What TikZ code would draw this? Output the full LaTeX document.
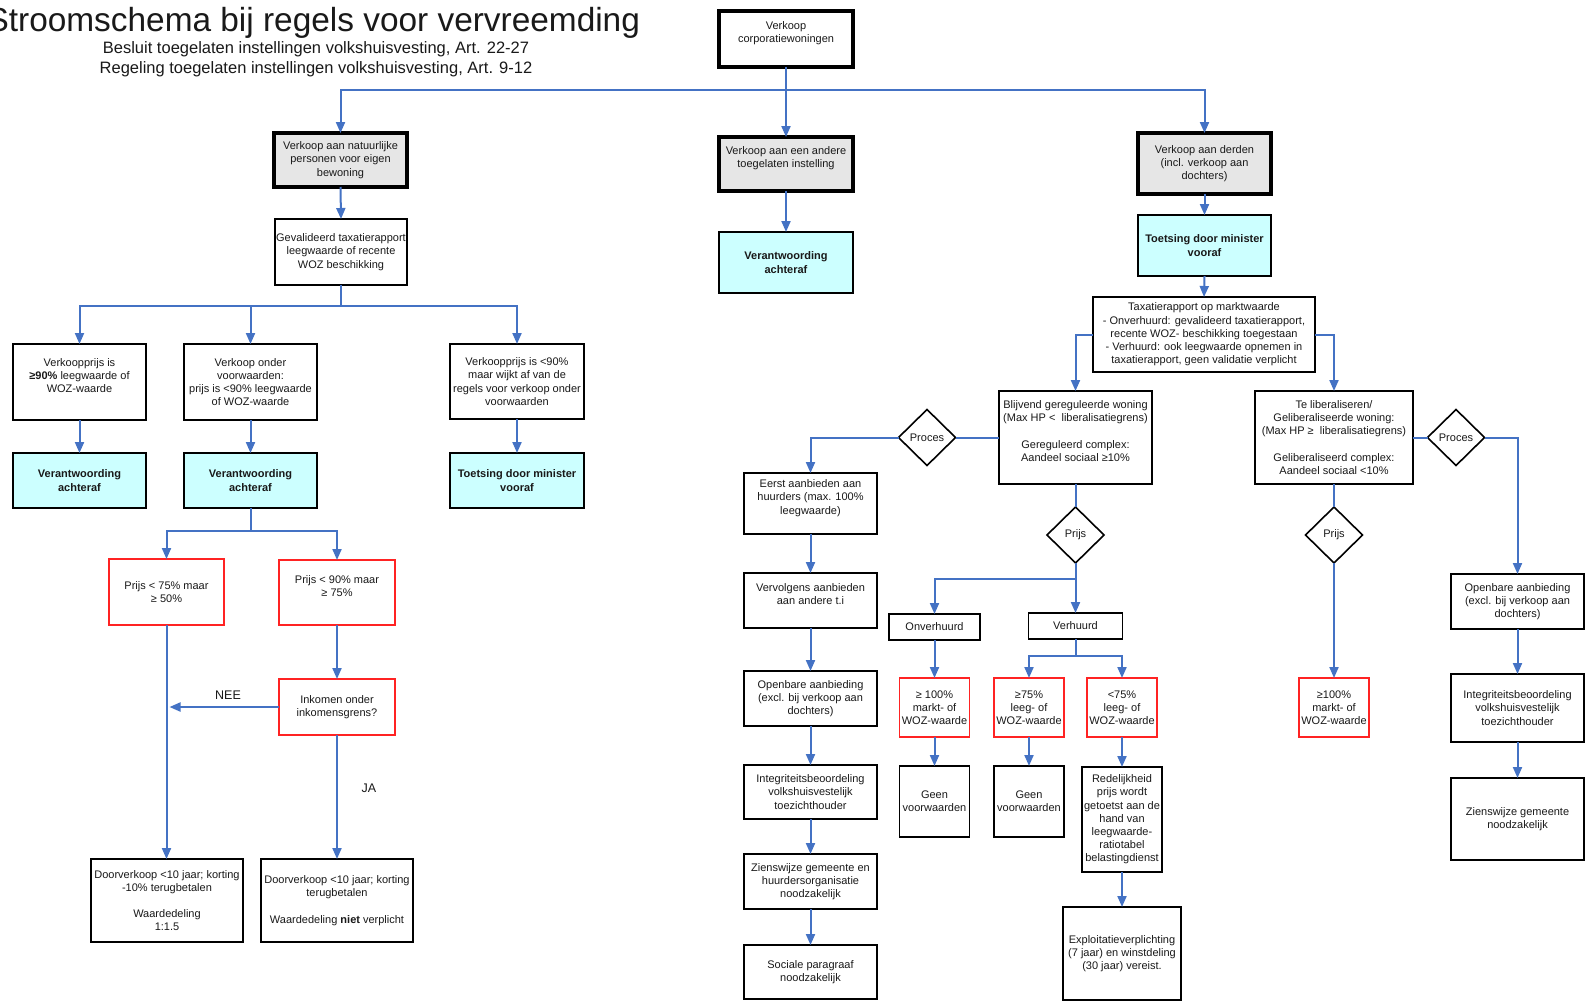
\documentclass[tikz,border=0pt]{standalone}
\usepackage{fontspec}
\setmainfont{Liberation Sans}
\usetikzlibrary{arrows.meta,shapes.geometric,calc}
\definecolor{conblue}{RGB}{68,114,196}
\definecolor{cyanfill}{RGB}{204,255,255}
\definecolor{grayfill}{RGB}{230,230,230}
\definecolor{redline}{RGB}{255,35,35}
\newcommand\bx[7]{\node[#6, minimum width={(#4-#2)*1pt}, minimum height={(#5-#3)*1pt}] (#1) at ({(#2+#4)/2},{(#3+#5)/2}) {#7};}
\begin{document}
\begin{tikzpicture}[x=1pt,y=-1pt,
  every node/.style={font=\fontsize{11}{13.2}\selectfont, align=center, inner sep=0pt, outer sep=0pt, text=black!90},
  plainbox/.style={draw=black, line width=1.6pt, fill=white},
  heavybox/.style={draw=black, line width=3.2pt, fill=white},
  graybox/.style={draw=black, line width=3.2pt, fill=grayfill},
  cyanbox/.style={draw=black, line width=1.6pt, fill=cyanfill, font=\fontsize{11}{13.2}\selectfont\bfseries},
  redbox/.style={draw=redline, line width=1.8pt, fill=white},
  diam/.style={draw=black, line width=1.6pt, fill=white, diamond, minimum width=57pt, minimum height=56pt},
  conn/.style={draw=conblue, line width=2pt},
  arr/.style={conn, -{Triangle[length=11pt,width=9pt]}},
  lbl/.style={font=\fontsize{12.5}{14}\selectfont}
]
\useasboundingbox (0,0) rectangle (1589,1001);
\fill[white] (0,0) rectangle (1589,1001);

% titles
\node[anchor=base east, font=\fontsize{33.4}{36}\selectfont] (title) at (640,31) {Stroomschema bij regels voor vervreemding};
\node[anchor=base, font=\fontsize{16.5}{19}\selectfont] (sub1) at (316,53.5) {Besluit toegelaten instellingen volkshuisvesting, Art. 22-27};
\node[anchor=base, font=\fontsize{16.5}{19}\selectfont] (sub2) at (316,73.5) {Regeling toegelaten instellingen volkshuisvesting, Art. 9-12};

% top level
\bx{top}{719}{11}{853}{67}{heavybox}{Verkoop\\corporatiewoningen\\\mbox{}}
\bx{nat}{274}{133}{407}{187}{graybox}{Verkoop aan natuurlijke\\personen voor eigen\\bewoning}
\bx{andere}{719}{137}{853}{191}{graybox}{Verkoop aan een andere\\toegelaten instelling\\\mbox{}}
\bx{derden}{1138}{133}{1271}{194}{graybox}{Verkoop aan derden\\(incl. verkoop aan\\dochters)}
\bx{vaA}{719}{232}{853}{293}{cyanbox}{Verantwoording\\achteraf}
\bx{tmD}{1138}{215}{1271}{276}{cyanbox}{Toetsing door minister\\vooraf}
\bx{tax}{1093}{297}{1315}{372}{plainbox}{Taxatierapport op marktwaarde\\- Onverhuurd: gevalideerd taxatierapport,\\recente WOZ- beschikking toegestaan\\- Verhuurd: ook leegwaarde opnemen in\\taxatierapport, geen validatie verplicht}

% left branch
\bx{geval}{275}{219}{407}{285}{plainbox}{Gevalideerd taxatierapport\\leegwaarde of recente\\WOZ beschikking}
\bx{A}{13}{344}{146}{420}{plainbox}{Verkoopprijs is\\\textbf{≥90\%} leegwaarde of\\WOZ-waarde\\\mbox{}}
\bx{B}{184}{344}{317}{420}{plainbox}{Verkoop onder\\voorwaarden:\\prijs is <90\% leegwaarde\\of WOZ-waarde}
\bx{C}{450}{344}{584}{419}{plainbox}{Verkoopprijs is <90\%\\maar wijkt af van de\\regels voor verkoop onder\\voorwaarden}
\bx{A2}{13}{453}{146}{508}{cyanbox}{Verantwoording\\achteraf}
\bx{B2}{184}{453}{317}{508}{cyanbox}{Verantwoording\\achteraf}
\bx{C2}{450}{453}{584}{508}{cyanbox}{Toetsing door minister\\vooraf}
\bx{r75}{109}{559}{224}{625}{redbox}{Prijs < 75\% maar\\≥ 50\%}
\bx{r90}{279}{560}{395}{625}{redbox}{Prijs < 90\% maar\\≥ 75\%\\\mbox{}}
\bx{ink}{279}{679}{395}{735}{redbox}{Inkomen onder\\inkomensgrens?}
\bx{dvL}{91}{859}{243}{942}{plainbox}{Doorverkoop <10 jaar; korting\\-10\% terugbetalen\\\mbox{}\\Waardedeling\\1:1.5}
\bx{dvR}{261}{859}{413}{942}{plainbox}{Doorverkoop <10 jaar; korting\\terugbetalen\\\mbox{}\\Waardedeling \textbf{niet} verplicht}
\node[lbl] (nee) at (228,695) {NEE};
\node[lbl] (ja) at (369,788) {JA};

% right branch
\bx{blij}{999}{391}{1152}{484}{plainbox}{Blijvend gereguleerde woning\\(Max HP <~ liberalisatiegrens)\\\mbox{}\\Gereguleerd complex:\\Aandeel sociaal ≥10\%\\\mbox{}}
\bx{telib}{1255}{391}{1413}{484}{plainbox}{Te liberaliseren/\\Geliberaliseerde woning:\\(Max HP ≥~ liberalisatiegrens)\\\mbox{}\\Geliberaliseerd complex:\\Aandeel sociaal <10\%}
\node[diam] (pl) at (927,437.5) {Proces};
\node[diam] (pr) at (1456,437.5) {Proces};
\node[diam] (pL) at (1075.5,535) {Prijs};
\node[diam] (pR) at (1334,535) {Prijs};

\bx{eerst}{744}{473}{877}{534}{plainbox}{Eerst aanbieden aan\\huurders (max. 100\%\\leegwaarde)\\\mbox{}}
\bx{verv}{744}{573}{877}{628}{plainbox}{Vervolgens aanbieden\\aan andere t.i\\\mbox{}}
\bx{openL}{744}{671}{877}{726}{plainbox}{Openbare aanbieding\\(excl. bij verkoop aan\\dochters)}
\bx{integL}{744}{765}{877}{819}{plainbox}{Integriteitsbeoordeling\\volkshuisvestelijk\\toezichthouder}
\bx{ziensL}{744}{854}{877}{909}{plainbox}{Zienswijze gemeente en\\huurdersorganisatie\\noodzakelijk}
\bx{soc}{744}{945}{877}{999}{plainbox}{Sociale paragraaf\\noodzakelijk}

\bx{onv}{889}{614}{980}{640}{plainbox}{Onverhuurd}
\bx{verh}{1028.5}{613}{1122.5}{639}{plainbox}{Verhuurd}
\bx{r100}{899.5}{678}{969.5}{737}{redbox}{≥ 100\%\\markt- of\\WOZ-waarde}
\bx{r75a}{994}{678}{1064}{737}{redbox}{≥75\%\\leeg- of\\WOZ-waarde}
\bx{r75b}{1087}{678}{1157}{737}{redbox}{<75\%\\leeg- of\\WOZ-waarde}
\bx{geen1}{899.5}{766}{969.5}{837}{plainbox}{Geen\\voorwaarden}
\bx{geen2}{994}{766}{1064}{837}{plainbox}{Geen\\voorwaarden}
\bx{redel}{1082}{767}{1162}{872}{plainbox}{Redelijkheid\\prijs wordt\\getoetst aan de\\hand van\\leegwaarde-\\ratiotabel\\belastingdienst}
\bx{expl}{1063}{907}{1181}{1000}{plainbox}{Exploitatieverplichting\\(7 jaar) en winstdeling\\(30 jaar) vereist.}

\bx{r100R}{1299}{678}{1369}{737}{redbox}{≥100\%\\markt- of\\WOZ-waarde}
\bx{opR}{1451}{574}{1584}{629}{plainbox}{Openbare aanbieding\\(excl. bij verkoop aan\\dochters)}
\bx{integR}{1451}{674}{1584}{742}{plainbox}{Integriteitsbeoordeling\\volkshuisvestelijk\\toezichthouder}
\bx{ziensR}{1451}{778}{1584}{860}{plainbox}{Zienswijze gemeente\\noodzakelijk}

% junctions
\coordinate (j1) at (786,90);
\coordinate (jG) at (341,306);
\coordinate (jB) at (250.5,531);
\coordinate (jP) at (1075.5,579);
\coordinate (jV) at (1075.5,656);

% connectors top
\draw[arr] (top.south) -- (andere.north);
\draw[arr] (j1) -| (nat.north);
\draw[arr] (j1) -| (derden.north);
\draw[arr] (andere.south) -- (vaA.north);
\draw[arr] (derden.south) -- (tmD.north);
\draw[arr] (tmD.south) -- (tax.north);

% connectors left
\draw[arr] (nat.south) -- (geval.north);
\draw[conn] (geval.south) -- (jG);
\draw[arr] (jG) -| (A.north);
\draw[arr] (jG) -| (B.north);
\draw[arr] (jG) -| (C.north);
\draw[arr] (A.south) -- (A2.north);
\draw[arr] (B.south) -- (B2.north);
\draw[arr] (C.south) -- (C2.north);
\draw[conn] (B2.south) -- (jB);
\draw[arr] (jB) -| (r75.north);
\draw[arr] (jB) -| (r90.north);
\draw[arr] (r90.south) -- (ink.north);
\draw[arr] (r75.south) -- (r75.south |- dvL.north);
\draw[arr, shorten >=3pt] (ink.west) -- (ink.west -| r75.south);
\draw[arr] (ink.south) -- (dvR.north);

% connectors right
\draw[arr] (tax.west) -| (blij.north);
\draw[arr] (tax.east) -| (telib.north);
\draw[conn] (blij.west) -- (pl.east);
\draw[arr] (pl.west) -| (eerst.north);
\draw[conn] (telib.east) -- (pr.west);
\draw[arr] (pr.east) -| (opR.north);
\draw[conn] (blij.south) -- (pL.north);
\draw[arr] (pL.south) -- (verh.north);
\draw[arr] (jP) -| (onv.north);
\draw[conn] (telib.south) -- (pR.north);
\draw[arr] (pR.south) -- (r100R.north);

\draw[arr] (eerst.south) -- (verv.north);
\draw[arr] (verv.south) -- (openL.north);
\draw[arr] (openL.south) -- (integL.north);
\draw[arr] (integL.south) -- (ziensL.north);
\draw[arr] (ziensL.south) -- (soc.north);

\draw[arr] (onv.south) -- (onv.south |- r100.north);
\draw[conn] (verh.south) -- (jV);
\draw[arr] (jV) -| (r75a.north);
\draw[arr] (jV) -| (r75b.north);
\draw[arr] (r100.south) -- (geen1.north);
\draw[arr] (r75a.south) -- (geen2.north);
\draw[arr] (r75b.south) -- (redel.north);
\draw[arr] (redel.south) -- (expl.north);

\draw[arr] (opR.south) -- (integR.north);
\draw[arr] (integR.south) -- (ziensR.north);
\end{tikzpicture}
\end{document}
